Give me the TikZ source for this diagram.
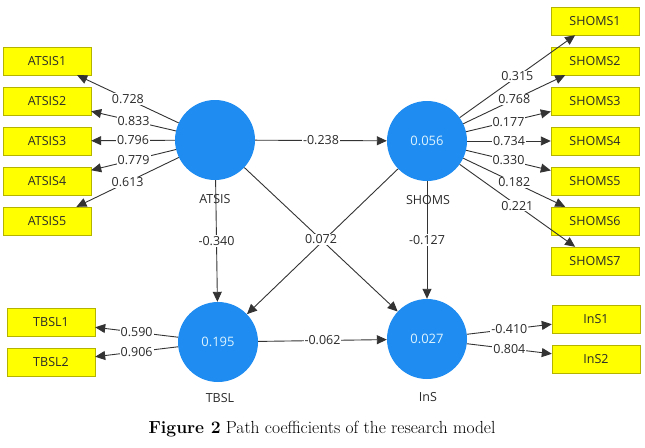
\documentclass[tikz,border=0pt]{standalone}
\usepackage{fontspec}
\usepackage{tikz}
\usetikzlibrary{arrows.meta}
\newfontfamily\plsfont{Open Sans}
\definecolor{PlsBlue}{HTML}{1E8CF0}
\definecolor{PlsYellow}{HTML}{FFFF00}
\definecolor{PlsEdge}{HTML}{B4B400}
\definecolor{PlsInner}{HTML}{DDF3FF}
\definecolor{PlsGray}{HTML}{2A2A2A}
\definecolor{PlsLine}{HTML}{333333}

\begin{document}
\begin{tikzpicture}[
  x=1pt,y=-1pt,
  latent/.style={circle,fill=PlsBlue,minimum size=80pt,inner sep=0pt,text=PlsInner,font=\plsfont\fontsize{13}{15}\selectfont},
  indicator/.style={rectangle,draw=PlsEdge,fill=PlsYellow,minimum width=88pt,minimum height=28pt,inner sep=0pt,text=PlsGray,font=\plsfont\fontsize{12.5}{14}\selectfont},
  lvname/.style={text=PlsGray,font=\plsfont\fontsize{12.5}{14}\selectfont},
  path/.style={-{Triangle[length=10pt,width=9pt]},draw=PlsLine,line width=0.9pt},
  coef/.style={fill=white,inner sep=1pt,text=PlsGray,font=\plsfont\fontsize{12.5}{14}\selectfont}
]
\useasboundingbox (0,0) rectangle (645,447);
% latent variables
\node[latent] (atsis) at (215,140) {};
\node[latent] (shoms) at (427,141) {0.056};
\node[latent] (tbsl) at (218,342) {0.195};
\node[latent] (ins) at (427,339) {0.027};
\node[lvname] (atsisname) at (215,199) {ATSIS};
\node[lvname] (shomsname) at (428,200) {SHOMS};
\node[lvname] (tbslname) at (220,398) {TBSL};
\node[lvname] (insname) at (428,397) {InS};
% indicators
\node[indicator] (atsis1) at (47,61) {ATSIS1};
\node[indicator] (atsis2) at (47,101) {ATSIS2};
\node[indicator] (atsis3) at (47,141) {ATSIS3};
\node[indicator] (atsis4) at (47,181) {ATSIS4};
\node[indicator] (atsis5) at (47,221) {ATSIS5};
\node[indicator] (shoms1) at (595,21) {SHOMS1};
\node[indicator] (shoms2) at (595,61) {SHOMS2};
\node[indicator] (shoms3) at (595,101) {SHOMS3};
\node[indicator] (shoms4) at (595,141) {SHOMS4};
\node[indicator] (shoms5) at (595,181) {SHOMS5};
\node[indicator] (shoms6) at (595,221) {SHOMS6};
\node[indicator] (shoms7) at (595,261) {SHOMS7};
\node[indicator] (tbsl1) at (51,322) {TBSL1};
\node[indicator] (tbsl2) at (51,362) {TBSL2};
\node[indicator] (ins1) at (596,319) {InS1};
\node[indicator] (ins2) at (596,359) {InS2};
% structural paths
\draw[path] (atsis) -- node[coef] {-0.238} (shoms);
\draw[path] (atsis) -- node[coef] {-0.340} (tbsl);
\draw[path] (shoms) -- node[coef] {-0.127} (ins);
\draw[path] (shoms) -- (tbsl);
\draw[path] (atsis) -- node[coef] {0.072} (ins);
\draw[path] (tbsl) -- node[coef] {-0.062} (ins);
% loadings
\draw[path] (atsis) -- node[coef] {0.728} (atsis1);
\draw[path] (atsis) -- node[coef] {0.833} (atsis2);
\draw[path] (atsis) -- node[coef] {0.796} (atsis3);
\draw[path] (atsis) -- node[coef] {0.779} (atsis4);
\draw[path] (atsis) -- node[coef] {0.613} (atsis5);
\draw[path] (shoms) -- node[coef] {0.315} (shoms1);
\draw[path] (shoms) -- node[coef] {0.768} (shoms2);
\draw[path] (shoms) -- node[coef] {0.177} (shoms3);
\draw[path] (shoms) -- node[coef] {0.734} (shoms4);
\draw[path] (shoms) -- node[coef] {0.330} (shoms5);
\draw[path] (shoms) -- node[coef] {0.182} (shoms6);
\draw[path] (shoms) -- node[coef] {0.221} (shoms7);
\draw[path] (tbsl) -- node[coef] {0.590} (tbsl1);
\draw[path] (tbsl) -- node[coef] {0.906} (tbsl2);
\draw[path] (ins) -- node[coef] {-0.410} (ins1);
\draw[path] (ins) -- node[coef] {0.804} (ins2);
% caption
\node[font=\fontsize{17.5}{20}\selectfont] (caption) at (322,429) {\textbf{Figure 2} Path coefficients of the research model};
\end{tikzpicture}
\end{document}
